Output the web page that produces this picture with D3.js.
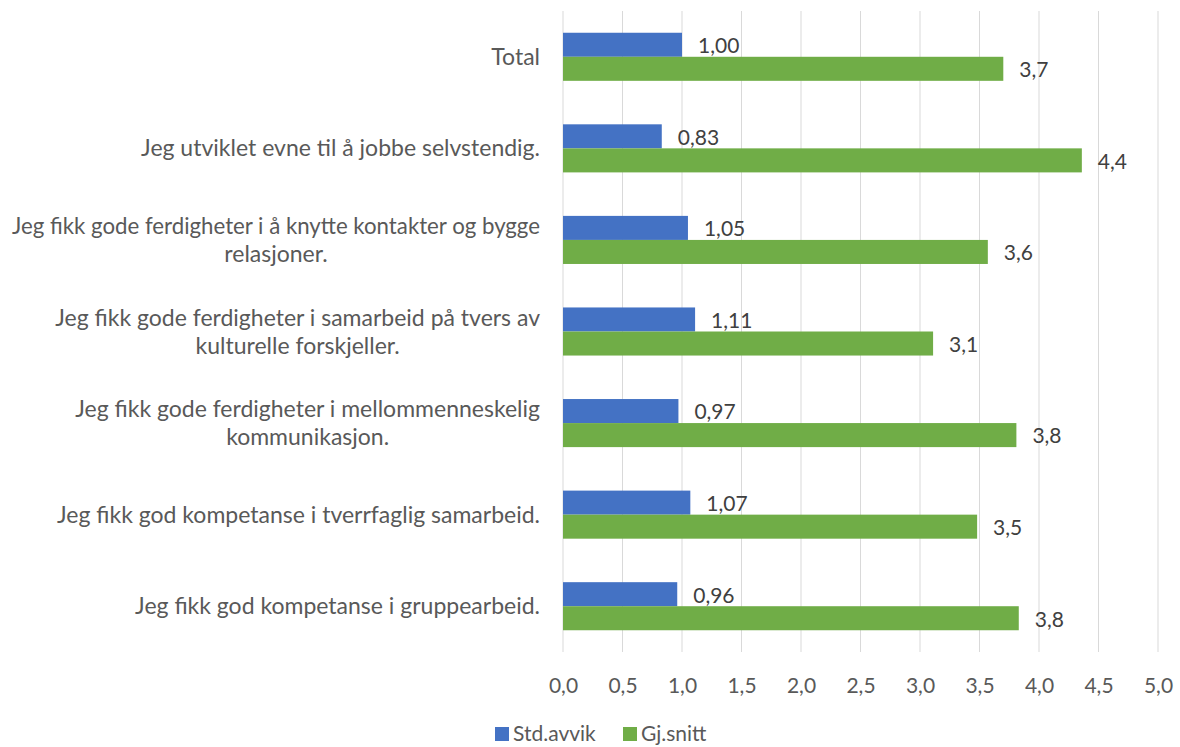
<!DOCTYPE html>
<html>
<head>
<meta charset="utf-8">
<script src="https://cdn.jsdelivr.net/npm/d3@7"></script>
<style>
  body { margin: 0; background: #fff; }
  svg text { font-family: Lato, "Open Sans", sans-serif; }
</style>
</head>
<body>
<div id="chart"></div>
<script>
// categories, top to bottom (line breaks as in the original labels)
const categories = [
    "Total",
    "Jeg utviklet evne til å jobbe selvstendig.",
    "Jeg fikk gode ferdigheter i å knytte kontakter og bygge\nrelasjoner.",
    "Jeg fikk gode ferdigheter i samarbeid på tvers av\nkulturelle forskjeller.",
    "Jeg fikk gode ferdigheter i mellommenneskelig\nkommunikasjon.",
    "Jeg fikk god kompetanse i tverrfaglig samarbeid.",
    "Jeg fikk god kompetanse i gruppearbeid."
];
const stdAvvik = [1.00, 0.83, 1.05, 1.11, 0.97, 1.07, 0.96];
const gjSnitt = [3.70, 4.36, 3.57, 3.11, 3.81, 3.48, 3.83];
const seriesNames = ["Std.avvik", "Gj.snitt"];
const seriesColors = ["#4472C4", "#70AD47"];
const seriesDecimals = [2, 1];
const xTicks = [0, 0.5, 1, 1.5, 2, 2.5, 3, 3.5, 4, 4.5, 5];

const width = 1180;
const height = 747;
const margin = { top: 11, right: 22, bottom: 95, left: 563 };

const svg = d3.select("#chart")
    .append("svg")
    .attr("width", width)
    .attr("height", height);

const x = d3.scaleLinear()
    .domain([0, 5])
    .range([margin.left, width - margin.right]);

const y = d3.scaleBand()
    .domain(categories)
    .range([margin.top, height - margin.bottom])
    .paddingInner(0.475)
    .paddingOuter(0.2375);

const ySub = d3.scaleBand()
    .domain(seriesNames)
    .range([0, y.bandwidth()]);

const fmt = (v, d) => v.toFixed(d).replace(".", ",");

// gridlines
svg.append("g")
    .selectAll("line")
    .data(xTicks)
    .join("line")
    .attr("x1", d => x(d))
    .attr("x2", d => x(d))
    .attr("y1", margin.top)
    .attr("y2", height - margin.bottom)
    .attr("stroke", "#d9d9d9")
    .attr("stroke-width", 1);

// x axis labels
const xAxis = svg.append("g")
    .attr("transform", `translate(0,${height - margin.bottom})`)
    .call(d3.axisBottom(x).tickValues(xTicks).tickSize(0).tickPadding(26).tickFormat(d => fmt(d, 1)));
xAxis.select(".domain").remove();
xAxis.attr("font-family", null).attr("font-size", null);
xAxis.selectAll("text")
    .attr("fill", "#595959")
    .style("font-size", "21px");

// bars
const series = [stdAvvik, gjSnitt];
series.forEach((vals, si) => {
    const g = svg.append("g");
    g.selectAll("rect")
        .data(categories)
        .join("rect")
        .attr("x", x(0))
        .attr("y", d => y(d) + ySub(seriesNames[si]))
        .attr("width", (d, i) => x(vals[i]) - x(0))
        .attr("height", ySub.bandwidth())
        .attr("fill", seriesColors[si]);

    g.selectAll("text")
        .data(categories)
        .join("text")
        .attr("x", (d, i) => x(vals[i]) + 16)
        .attr("y", d => y(d) + ySub(seriesNames[si]) + ySub.bandwidth() / 2 + 1)
        .attr("dy", "0.35em")
        .attr("fill", "#404040")
        .style("font-size", "21px")
        .text((d, i) => fmt(vals[i], seriesDecimals[si]));
});

// category labels, centred block, right aligned to the axis
const labelRight = 540;
const maxLabelW = 528;
const lineH = 28;
categories.forEach(cat => {
    const lines = cat.split("\n");
    const t = svg.append("text")
        .attr("fill", "#595959")
        .style("font-size", "23px")
        .attr("text-anchor", "middle");
    const cy = y(cat) + y.bandwidth() / 2;
    lines.forEach((ln, li) => {
        t.append("tspan")
            .attr("y", cy + (li - (lines.length - 1) / 2) * lineH)
            .attr("dy", "0.35em")
            .text(ln);
    });
    // squeeze lines that are wider than the space left of the axis
    t.selectAll("tspan").each(function () {
        if (this.getComputedTextLength() > maxLabelW) {
            d3.select(this).attr("textLength", maxLabelW).attr("lengthAdjust", "spacingAndGlyphs");
        }
    });
    const w = d3.max(t.selectAll("tspan").nodes(), n => Math.min(n.getComputedTextLength(), maxLabelW));
    t.selectAll("tspan").attr("x", labelRight - w / 2);
});

// legend
const legendY = 734;
const legendX = [495, 623];
seriesNames.forEach((name, i) => {
    svg.append("rect")
        .attr("x", legendX[i])
        .attr("y", legendY - 7)
        .attr("width", 14)
        .attr("height", 14)
        .attr("fill", seriesColors[i]);
    svg.append("text")
        .attr("x", legendX[i] + 18)
        .attr("y", legendY)
        .attr("dy", "0.35em")
        .attr("fill", "#595959")
        .style("font-size", "21px")
        .text(name);
});
</script>
</body>
</html>
